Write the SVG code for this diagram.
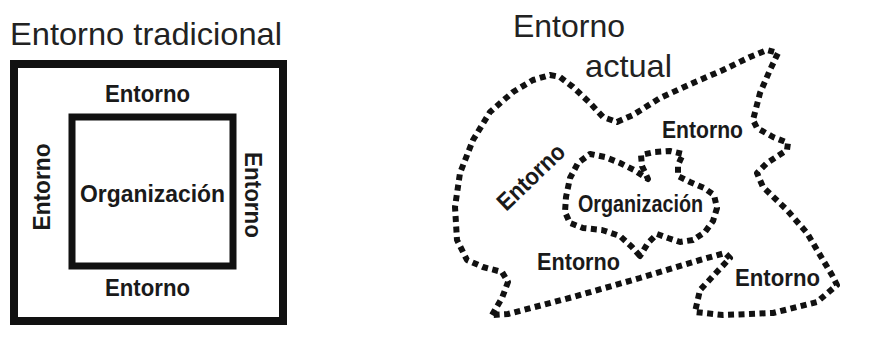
<svg xmlns="http://www.w3.org/2000/svg" width="870" height="342" viewBox="0 0 870 342">
<style>
.title{font-family:"Liberation Sans",Arial,sans-serif;font-size:32px;fill:#222}
.lbl{font-family:"Liberation Sans",Arial,sans-serif;font-weight:bold;font-size:24px;fill:#1a1a1a;text-anchor:middle}
.solid{fill:none;stroke:#111}
.dot{fill:none;stroke:#111;stroke-width:6;stroke-dasharray:6 4.5;stroke-linejoin:round}
</style>
<rect width="870" height="342" fill="#fff"/>
<g id="traditional">
  <text class="title" x="10" y="45" textLength="272" lengthAdjust="spacingAndGlyphs">Entorno tradicional</text>
  <g id="outer-env">
    <rect class="solid" x="14" y="64" width="269" height="257" stroke-width="8"/>
    <text class="lbl" x="147.5" y="102" textLength="85" lengthAdjust="spacingAndGlyphs">Entorno</text>
    <text class="lbl" x="147.5" y="296" textLength="85" lengthAdjust="spacingAndGlyphs">Entorno</text>
    <text class="lbl" transform="translate(50,187) rotate(-90)" textLength="87" lengthAdjust="spacingAndGlyphs">Entorno</text>
    <text class="lbl" transform="translate(245,195) rotate(90)" textLength="86" lengthAdjust="spacingAndGlyphs">Entorno</text>
  </g>
  <g id="org-trad">
    <rect class="solid" x="72" y="117" width="161" height="149" stroke-width="7"/>
    <text class="lbl" x="152.5" y="202" textLength="145" lengthAdjust="spacingAndGlyphs">Organización</text>
  </g>
</g>
<g id="actual">
  <text class="title" x="513" y="37" textLength="112" lengthAdjust="spacingAndGlyphs">Entorno</text>
  <text class="title" x="585" y="77" textLength="87" lengthAdjust="spacingAndGlyphs">actual</text>
  <g id="outer-blob">
    <path class="dot" d="M492,315 L502,298 L508,282 L502,272 L483,267 L467,260 L457,240 L455,207 L460,173 L473,140 L490,112 L513,92 L533,80 L550,75 L560,77 L573,87 L590,103 L603,117 L617,122 L633,115 L660,98 L693,83 L723,70 L750,57 L767,50 L778,53 L770,70 L760,93 L753,120 L757,128 L773,137 L788,143 L787,150 L767,163 L757,173 L763,187 L787,210 L807,233 L823,260 L832,275 L837,285 L817,302 L773,313 L723,315 L695,312 L700,290 L730,258 L725,253 L700,260 L640,278 L573,297 L508,314 Z"/>
    <text class="lbl" x="702.5" y="138" font-size="23" textLength="81" lengthAdjust="spacingAndGlyphs">Entorno</text>
    <text class="lbl" transform="translate(531,177) rotate(-44)" y="8" font-size="23" textLength="84" lengthAdjust="spacingAndGlyphs">Entorno</text>
    <text class="lbl" x="578.5" y="270" font-size="23" textLength="83" lengthAdjust="spacingAndGlyphs">Entorno</text>
    <text class="lbl" x="777.5" y="286" font-size="23" textLength="85" lengthAdjust="spacingAndGlyphs">Entorno</text>
  </g>
  <g id="org-blob">
    <path class="dot" d="M640,256 L632,247 L620,236 L602,230 L583,228 L570,223 L565,212 L566,197 L570,178 L578,163 L590,154 L605,157 L620,163 L634,170 L648,179 L642,166 L641,155 L655,152 L670,151 L683,154 L678,165 L678,176 L690,182 L704,188 L714,195 L717,208 L713,221 L705,232 L693,240 L680,242 L668,238 L657,234 L648,243 Z"/>
    <text class="lbl" x="640.5" y="212" font-size="21" textLength="125" lengthAdjust="spacingAndGlyphs">Organización</text>
  </g>
</g>
</svg>
